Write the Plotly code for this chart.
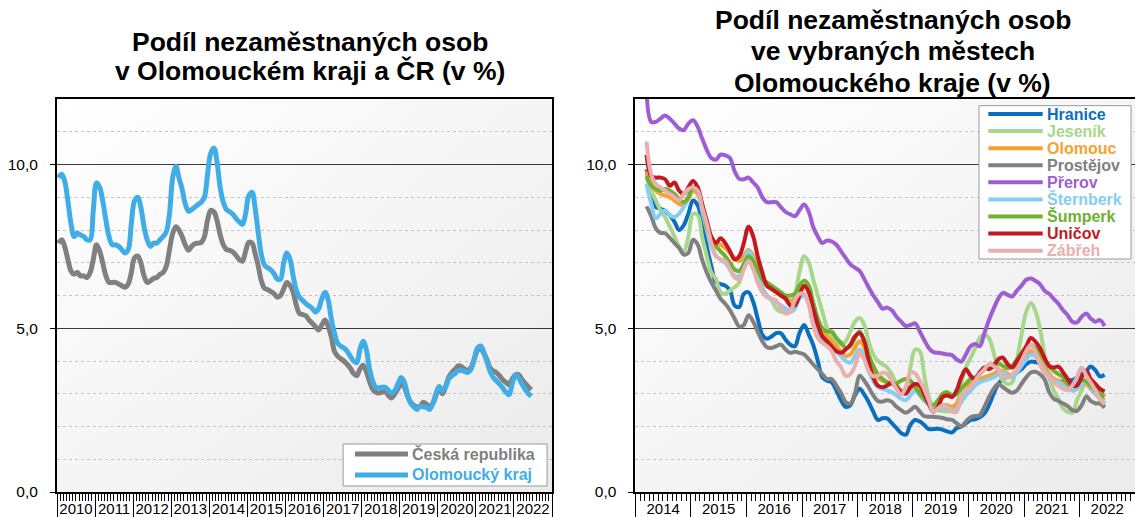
import base64
import pandas as pd
import plotly.graph_objects as go

# ---------------- data: left chart (monthly, Jan 2010 - Jun 2022) ----------------
left_start = "2010-01-01"
ceska_republika = [
    7.6, 7.7, 7.5, 7.1, 6.75, 6.65, 6.7, 6.6, 6.6, 6.55, 6.7, 7.1,
    7.55, 7.35, 7.0, 6.6, 6.4, 6.4, 6.4, 6.35, 6.3, 6.25, 6.35, 6.7,
    7.15, 7.2, 7.0, 6.6, 6.4, 6.45, 6.52, 6.55, 6.65, 6.7, 6.9, 7.4,
    7.9, 8.1, 8.0, 7.8, 7.55, 7.38, 7.5, 7.58, 7.6, 7.62, 7.8, 8.3,
    8.6, 8.55, 8.3, 7.85, 7.55, 7.4, 7.38, 7.33, 7.22, 7.1, 7.05, 7.35,
    7.62, 7.6, 7.3, 6.9, 6.45, 6.22, 6.18, 6.12, 6.05, 5.95, 6.0, 6.2,
    6.4, 6.3, 6.1, 5.7, 5.45, 5.42, 5.38, 5.25, 5.15, 5.05, 4.95, 5.1,
    5.25, 5.05, 4.75, 4.3, 4.15, 4.07, 4.0, 3.9, 3.78, 3.62, 3.55, 3.75,
    3.87, 3.68, 3.4, 3.15, 3.05, 3.02, 3.05, 3.07, 2.95, 2.87, 3.0, 3.15,
    3.3, 3.2, 2.95, 2.75, 2.65, 2.6, 2.62, 2.74, 2.68, 2.62, 2.7, 2.95,
    3.15, 3.0, 3.2, 3.5, 3.65, 3.75, 3.85, 3.83, 3.75, 3.72, 3.8, 4.05,
    4.32, 4.4, 4.25, 4.05, 3.8, 3.7, 3.65, 3.55, 3.43, 3.35, 3.27, 3.45,
    3.58, 3.58, 3.45, 3.33, 3.22, 3.12,
]
olomoucky_kraj = [
    9.6, 9.7, 9.5, 8.9, 8.2, 7.8, 7.9, 7.85, 7.8, 7.7, 7.7, 8.6,
    9.44, 9.3, 8.9, 8.3, 7.8, 7.55, 7.55, 7.5, 7.4, 7.3, 7.4, 8.2,
    8.9, 9.0, 8.7, 8.1, 7.7, 7.5, 7.6, 7.6, 7.7, 7.8, 7.95, 8.5,
    9.6, 9.95, 9.6, 9.25, 8.8, 8.57, 8.62, 8.7, 8.78, 8.85, 9.0, 9.7,
    10.35, 10.5, 10.1, 9.3, 8.85, 8.62, 8.56, 8.48, 8.35, 8.25, 8.17, 8.5,
    9.05, 9.15, 8.7, 7.92, 7.25, 6.92, 6.85, 6.78, 6.66, 6.5, 6.5, 7.0,
    7.3, 7.1, 6.6, 6.15, 5.95, 5.85, 5.75, 5.68, 5.6, 5.5, 5.6, 5.9,
    6.1, 5.85, 5.3, 4.85, 4.55, 4.45, 4.4, 4.3, 4.14, 4.0, 3.95, 4.35,
    4.6, 4.35, 3.8, 3.4, 3.2, 3.18, 3.2, 3.2, 3.1, 3.02, 3.1, 3.3,
    3.5, 3.35, 3.0, 2.72, 2.6, 2.52, 2.62, 2.6, 2.58, 2.52, 2.7, 3.0,
    3.22, 3.1, 3.2, 3.45, 3.55, 3.62, 3.7, 3.72, 3.68, 3.65, 3.75, 4.05,
    4.39, 4.46, 4.3, 4.0, 3.7, 3.5, 3.4, 3.3, 3.18, 3.05, 2.97, 3.3,
    3.57, 3.48, 3.32, 3.15, 3.02, 2.92,
]

# ---------------- data: right chart (monthly, Mar 2014 - Jun 2022) ----------------
right_start = "2014-03-01"
hranice = [
    9.85, 9.1, 8.7, 8.65, 8.58, 8.45, 8.25, 8.0, 8.15, 8.5, 8.9, 8.75,
    8.2, 7.5, 6.9, 6.4, 6.35, 6.3, 6.15, 5.7, 5.65, 6.05, 6.1, 5.8,
    5.3, 4.8, 4.68, 4.75, 4.85, 4.85, 4.65, 4.5, 4.45, 4.85, 5.1, 4.8,
    4.5, 4.0, 3.5, 3.4, 3.35, 3.1, 2.8, 2.6, 2.65, 2.95, 3.15, 2.97,
    2.75, 2.45, 2.2, 2.25, 2.25, 2.1, 1.95, 1.8, 1.75, 2.05, 2.2, 2.15,
    2.05, 1.92, 1.92, 1.93, 1.9, 1.85, 1.82, 1.95, 2.0, 2.1, 2.2, 2.22,
    2.28, 2.4, 2.65, 3.0, 3.3, 3.45, 3.55, 3.55, 3.65, 3.75, 3.9, 3.98,
    3.97, 3.92, 3.75, 3.6, 3.43, 3.38, 3.37, 3.4, 3.42, 3.5, 3.6, 3.7,
    3.83, 3.72, 3.53, 3.58,
]
jesenik = [
    9.6, 9.2, 8.9, 8.6, 8.4, 8.1, 7.8, 7.5, 7.35, 7.8, 8.5, 8.45,
    7.8, 7.2, 6.7, 6.5, 6.1, 6.05, 6.15, 6.25, 6.4, 6.9, 7.3, 7.0,
    6.6, 6.25, 6.0, 5.85, 5.6, 5.5, 5.5, 5.6, 6.0, 6.7, 7.2, 7.0,
    6.5, 6.0, 5.5, 5.0, 4.75, 4.6, 4.5, 4.6, 4.9, 5.2, 5.31, 5.1,
    4.6, 4.2, 4.0, 3.9, 3.8, 3.6, 3.3, 3.12, 3.15, 3.8, 4.35, 4.3,
    3.6, 2.9, 2.6, 2.5, 2.48, 2.46, 2.5, 2.66, 3.3, 3.8, 4.1, 4.4,
    4.7, 4.8, 4.7, 4.25, 3.7, 3.4, 3.3, 3.35, 4.0, 4.8, 5.5, 5.77,
    5.55, 5.0, 4.2, 3.5, 3.1, 2.85, 2.55, 2.45, 2.42, 2.8, 3.1, 3.4,
    3.25, 3.05, 2.85, 2.62,
]
olomouc = [
    9.8, 9.4, 9.2, 9.1, 9.05, 9.0, 8.9, 8.8, 8.75, 8.95, 9.2, 9.1,
    8.7, 8.2, 7.8, 7.6, 7.55, 7.45, 7.3, 7.15, 7.05, 7.2, 7.4, 7.2,
    6.8, 6.45, 6.3, 6.2, 6.1, 6.0, 5.9, 5.85, 5.9, 6.1, 6.3, 6.1,
    5.6, 5.2, 4.9, 4.75, 4.6, 4.45, 4.3, 4.15, 4.2, 4.4, 4.6, 4.4,
    4.0, 3.7, 3.5, 3.4, 3.35, 3.3, 3.2, 3.1, 3.05, 3.15, 3.3, 3.15,
    2.95, 2.75, 2.6, 2.6, 2.65, 2.65, 2.6, 2.7, 2.9, 3.1, 3.3, 3.4,
    3.45, 3.5, 3.55, 3.6, 3.7, 3.7, 3.6, 3.55, 3.7, 3.9, 4.1, 4.3,
    4.25, 4.05, 3.8, 3.6, 3.45, 3.4, 3.3, 3.2, 3.1, 3.15, 3.3, 3.3,
    3.15, 3.0, 2.9, 2.8,
]
prostejov = [
    8.72, 8.42, 8.05, 7.91, 7.9, 7.76, 7.6, 7.45, 7.25, 7.3, 7.7, 7.55,
    7.1, 6.7, 6.4, 6.15, 5.9, 5.75, 5.55, 5.3, 5.05, 5.1, 5.4, 5.2,
    4.9, 4.6, 4.42, 4.4, 4.45, 4.5, 4.35, 4.25, 4.28, 4.25, 4.2, 4.05,
    3.9, 3.75, 3.6, 3.45, 3.45, 3.25, 3.02, 2.75, 2.7, 3.0, 3.55, 3.4,
    3.2, 2.95, 2.78, 2.76, 2.8, 2.75, 2.6, 2.5, 2.42, 2.5, 2.6, 2.45,
    2.32, 2.3, 2.3, 2.28, 2.26, 2.22, 2.2, 2.1, 2.0, 2.15, 2.28, 2.32,
    2.35, 2.6, 2.9, 3.15, 3.3, 3.2, 3.1, 3.03, 3.1, 3.3, 3.5, 3.65,
    3.67, 3.6, 3.45, 3.05, 2.85, 2.78, 2.7, 2.62, 2.5, 2.48, 2.65, 2.92,
    2.78, 2.71, 2.7, 2.58,
]
prerov = [
    12.2, 11.3, 11.3, 11.4, 11.5, 11.4, 11.25, 11.1, 11.05, 11.25, 11.35, 11.15,
    10.8, 10.45, 10.2, 10.15, 10.3, 10.28, 10.2, 9.8, 9.56, 9.55, 9.6, 9.45,
    9.3, 9.0, 8.85, 8.85, 8.85, 8.7, 8.55, 8.48, 8.42, 8.6, 8.78, 8.55,
    8.1, 7.8, 7.6, 7.68, 7.65, 7.55, 7.35, 7.15, 6.95, 6.85, 6.75, 6.5,
    6.25, 6.0, 5.8, 5.6, 5.63, 5.55, 5.35, 5.2, 5.07, 5.1, 5.15, 4.9,
    4.65, 4.4, 4.27, 4.25, 4.23, 4.2, 4.18, 4.05, 3.98, 4.2, 4.45, 4.52,
    4.45, 4.85, 5.25, 5.6, 5.9, 6.08, 6.02, 5.97, 6.15, 6.3, 6.48, 6.52,
    6.45, 6.35, 6.15, 6.05, 5.9, 5.75, 5.55, 5.4, 5.2, 5.18, 5.35, 5.45,
    5.3, 5.2, 5.25, 5.07,
]
sternberk = [
    9.4, 8.8, 8.35, 8.5, 8.6, 8.45, 8.4, 8.5, 8.7, 9.0, 9.3, 9.2,
    8.6, 8.0, 7.5, 7.2, 7.1, 7.0, 6.8, 6.6, 6.6, 7.0, 7.35, 7.1,
    6.6, 6.2, 6.0, 5.9, 5.8, 5.7, 5.6, 5.5, 5.6, 5.9, 6.0, 5.75,
    5.2, 4.8, 4.65, 4.55, 4.45, 4.3, 4.15, 4.0, 3.95, 4.15, 4.35, 4.1,
    3.7, 3.4, 3.2, 3.15, 3.1, 3.05, 2.95, 2.85, 2.8, 2.95, 3.1, 2.95,
    2.8, 2.65, 2.55, 2.55, 2.6, 2.55, 2.5, 2.55, 2.75, 2.95, 3.1, 3.25,
    3.35, 3.4, 3.45, 3.5, 3.6, 3.65, 3.55, 3.5, 3.65, 3.85, 4.05, 4.2,
    4.15, 3.95, 3.7, 3.5, 3.4, 3.35, 3.25, 3.15, 3.1, 3.15, 3.3, 3.35,
    3.2, 3.0, 2.85, 2.7,
]
sumperk = [
    9.65, 9.35, 9.25, 9.2, 9.25, 9.2, 9.1, 8.95, 8.85, 9.0, 9.3, 9.2,
    8.8, 8.1, 7.7, 7.5, 7.35, 7.2, 7.0, 6.8, 6.75, 6.95, 7.2, 7.05,
    6.8, 6.5, 6.4, 6.3, 6.2, 6.1, 6.0, 6.0, 6.05, 6.3, 6.45, 6.3,
    5.8, 5.3, 5.0, 4.9, 4.9, 4.7, 4.55, 4.4, 4.45, 4.7, 4.9, 4.6,
    4.2, 3.85, 3.6, 3.45, 3.35, 3.3, 3.32, 3.4, 3.45, 3.4, 3.2, 3.0,
    2.85, 2.7, 2.65, 2.8, 3.0, 3.05, 2.95, 3.0, 3.15, 3.3, 3.45, 3.5,
    3.6, 3.75, 3.85, 3.9, 3.93, 3.85, 3.78, 3.85, 4.05, 4.25, 4.4, 4.5,
    4.4, 4.25, 4.05, 3.85, 3.7, 3.6, 3.5, 3.3, 3.25, 3.3, 3.42, 3.38,
    3.25, 3.1, 3.0, 2.91,
]
unicov = [
    10.3, 9.65, 9.6, 9.6, 9.55, 9.35, 9.45, 9.2, 9.1, 9.3, 9.5, 9.3,
    8.8, 8.3, 7.8, 7.6, 7.75, 7.6, 7.35, 7.1, 7.2, 7.6, 8.1, 7.8,
    7.2, 6.7, 6.3, 6.2, 6.1, 6.0, 5.9, 5.7, 5.7, 6.0, 6.3, 6.1,
    5.6, 5.1, 4.75, 4.6, 4.45, 4.3, 4.25, 4.35, 4.5, 4.75, 4.85, 4.6,
    4.0, 3.5, 3.25, 3.2, 3.25, 3.35, 3.2, 3.05, 3.0, 3.2, 3.3, 3.25,
    3.0, 2.7, 2.45, 2.6, 2.9, 2.95, 2.9, 3.1, 3.5, 3.75, 3.55, 3.45,
    3.65, 3.8, 3.75, 3.85, 4.05, 4.1, 3.9, 3.8, 4.0, 4.2, 4.45, 4.7,
    4.6, 4.4, 4.1, 3.85, 3.8, 3.83, 3.65, 3.45, 3.25, 3.25, 3.5, 3.7,
    3.45, 3.3, 3.15, 3.07,
]
zabreh = [
    10.7, 9.7, 9.4, 9.3, 9.2, 9.1, 9.0, 8.9, 9.1, 9.25, 9.3, 9.2,
    8.7, 8.2, 7.6, 7.2, 7.1, 7.05, 6.8, 6.55, 6.5, 6.8, 7.05, 6.8,
    6.4, 6.1, 5.95, 5.9, 5.85, 5.6, 5.45, 5.5, 5.85, 6.05, 6.05, 5.7,
    5.1, 4.7, 4.55, 4.45, 4.3, 4.0, 3.8, 3.55, 3.6, 3.85, 4.25, 4.05,
    3.7, 3.53, 3.55, 3.65, 3.6, 3.4, 3.15, 2.97, 3.2, 3.65, 3.62, 3.4,
    3.15, 2.8, 2.45, 2.55, 2.65, 2.6, 2.45, 2.45, 2.9, 3.1, 3.2, 3.4,
    3.6, 3.75, 3.9, 3.85, 3.75, 3.55, 3.48, 3.6, 3.75, 4.0, 4.3, 4.5,
    4.3, 3.9, 3.65, 3.55, 3.35, 3.25, 3.15, 3.12, 3.25, 3.5, 3.8, 3.55,
    3.35, 3.1, 2.85, 2.68,
]

left_series = [
    ("Česká republika", ceska_republika, "#808080"),
    ("Olomoucký kraj", olomoucky_kraj, "#41ADE6"),
]
right_series = [
    ("Hranice", hranice, "#0A6FBF"),
    ("Jeseník", jesenik, "#A8D68C"),
    ("Olomouc", olomouc, "#F7A131"),
    ("Prostějov", prostejov, "#808080"),
    ("Přerov", prerov, "#9E5DD2"),
    ("Šternberk", sternberk, "#86CDF2"),
    ("Šumperk", sumperk, "#6DB12E"),
    ("Uničov", unicov, "#C1191F"),
    ("Zábřeh", zabreh, "#E9AEAE"),
]

left_title = ["Podíl nezaměstnaných osob", "v Olomouckém kraji a ČR (v %)"]
right_title = ["Podíl nezaměstnaných osob", "ve vybraných městech", "Olomouckého kraje (v %)"]

FONT = "Liberation Sans, Arial, sans-serif"


def month_positions(start, n):
    # each monthly value is placed in the middle of its month slot
    return pd.date_range(start=start, periods=n, freq="MS") + pd.Timedelta(days=14)


fig = go.Figure()

for name, vals, col in left_series:
    fig.add_trace(go.Scatter(
        x=month_positions(left_start, len(vals)), y=vals, mode="lines", name=name,
        line=dict(color=col, width=5, shape="spline", smoothing=1),
        xaxis="x", yaxis="y", hoverinfo="skip", showlegend=False,
    ))

for name, vals, col in right_series:
    fig.add_trace(go.Scatter(
        x=month_positions(right_start, len(vals)), y=vals, mode="lines", name=name,
        line=dict(color=col, width=4, shape="spline", smoothing=1),
        xaxis="x2", yaxis="y2", hoverinfo="skip", showlegend=False,
    ))

gradient_svg = (
    '<svg xmlns="http://www.w3.org/2000/svg" width="100" height="100" viewBox="0 0 100 100" '
    'preserveAspectRatio="none"><defs><linearGradient id="g" x1="0" y1="0" x2="1" y2="1">'
    '<stop offset="0" stop-color="#ffffff"/><stop offset="1" stop-color="#ebebeb"/>'
    '</linearGradient></defs><rect width="100" height="100" fill="url(#g)"/></svg>'
)
gradient_src = "data:image/svg+xml;base64," + base64.b64encode(gradient_svg.encode()).decode()


def xaxis_cfg(domain, start, end, anchor):
    return dict(
        domain=domain, type="date", range=[start, end], anchor=anchor, automargin=False,
        dtick="M12", tick0=start, tickformat="%Y", ticklabelmode="period",
        ticks="outside", ticklen=26, tickwidth=1, tickcolor="black",
        minor=dict(dtick="M1", ticks="outside", ticklen=7, tickwidth=1, tickcolor="black"),
        showgrid=False, showline=True, linecolor="black", linewidth=1.5, mirror=True,
        tickfont=dict(family=FONT, size=15, color="black"),
        ticklabelstandoff=-24, fixedrange=True,
    )


def yaxis_cfg(anchor):
    return dict(
        range=[0, 12], anchor=anchor, tick0=0, dtick=5, tickformat=".1f", automargin=False,
        showgrid=True, gridcolor="#3a3a3a", gridwidth=1,
        ticks="outside", ticklen=5, tickwidth=1, tickcolor="black",
        showline=True, linecolor="black", linewidth=2, mirror=True, zeroline=False,
        minor=dict(dtick=1, tick0=0, showgrid=True, gridcolor="#c4c4c4", griddash="dot", gridwidth=1),
        tickfont=dict(family=FONT, size=15.5, color="black"),
        ticklabelstandoff=9, fixedrange=True,
    )


annotations = []
for i, line in enumerate(left_title):
    annotations.append(dict(
        text=f"<b>{line}</b>", xref="paper", yref="paper", x=0.2347, y=1.145 - i * 0.0738,
        xanchor="center", yanchor="middle", showarrow=False,
        font=dict(family=FONT, size=26.5, color="black"),
    ))
for i, line in enumerate(right_title):
    annotations.append(dict(
        text=f"<b>{line}</b>", xref="paper", yref="paper", x=0.7755, y=1.201 - i * 0.080,
        xanchor="center", yanchor="middle", showarrow=False,
        font=dict(family=FONT, size=26.5, color="black"),
    ))

shapes = []


def add_legend(series, xref, yref, box, line_x, text_x, row0, row_step, lw):
    shapes.append(dict(type="rect", xref=xref, yref=yref, x0=box[0], x1=box[1], y0=box[2], y1=box[3],
                       fillcolor="white", line=dict(color="#9a9a9a", width=1), layer="above"))
    for i, (name, _vals, col) in enumerate(series):
        yy = row0 - i * row_step
        shapes.append(dict(type="line", xref=xref, yref=yref, x0=line_x[0], x1=line_x[1], y0=yy, y1=yy,
                           line=dict(color=col, width=lw), layer="above"))
        annotations.append(dict(
            text=f"<b>{name}</b>", xref=xref, yref=yref, x=text_x, y=yy,
            xanchor="left", yanchor="middle", showarrow=False,
            font=dict(family=FONT, size=16, color=col),
        ))


add_legend(left_series, "x domain", "y domain", (0.578, 0.990, 0.0153, 0.1221),
           (0.602, 0.709), 0.713, 0.0967, 0.0534, 5)
add_legend(right_series, "x2 domain", "y2 domain", (0.6877, 0.992, 0.5929, 0.983),
           (0.7063, 0.8152), 0.8200, 0.9618, 0.04346, 4)

fig.update_layout(
    width=1135, height=517,
    margin=dict(l=57, r=0, t=99, b=25),
    paper_bgcolor="white", plot_bgcolor="rgba(0,0,0,0)",
    separators=", ",
    font=dict(family=FONT, color="black"),
    xaxis=xaxis_cfg([0, 0.4592], "2010-01-01", "2023-01-01", "y"),
    yaxis=yaxis_cfg("x"),
    xaxis2=xaxis_cfg([0.5366, 1.0], "2014-01-01", "2023-01-01", "y2"),
    yaxis2=yaxis_cfg("x2"),
    showlegend=False,
    annotations=annotations,
    shapes=shapes,
    images=[
        dict(source=gradient_src, xref="x domain", yref="y domain", x=0, y=1, sizex=1, sizey=1,
             xanchor="left", yanchor="top", sizing="stretch", layer="below"),
        dict(source=gradient_src, xref="x2 domain", yref="y2 domain", x=0, y=1, sizex=1, sizey=1,
             xanchor="left", yanchor="top", sizing="stretch", layer="below"),
    ],
)

fig.write_html(
    "out.html",
    config={"displayModeBar": False},
    post_script="document.body.style.margin='0';document.body.style.overflow='hidden';",
)
